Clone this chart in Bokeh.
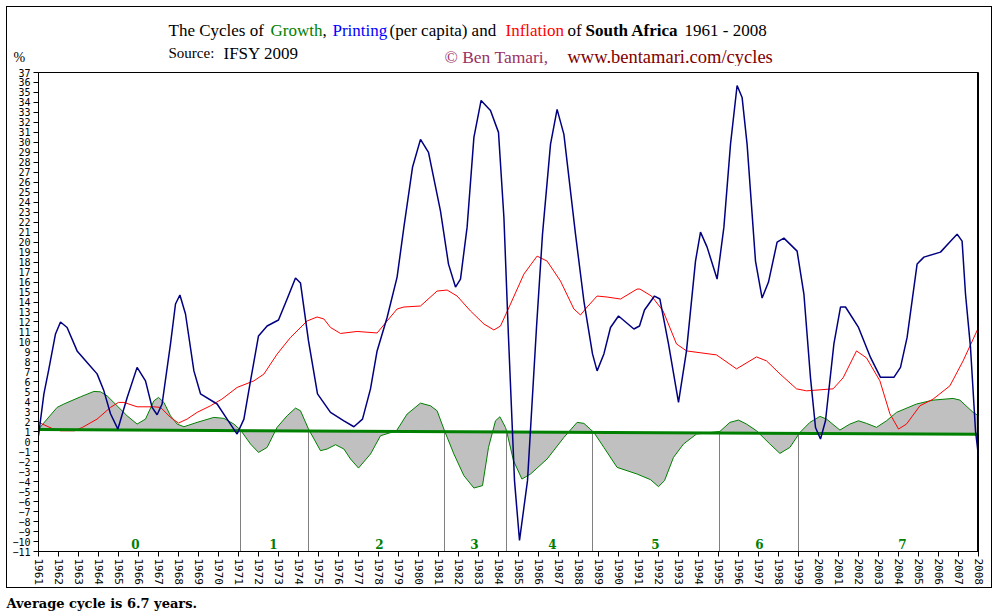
import numpy as np
from bokeh.plotting import figure
from bokeh.layouts import column
from bokeh.models import (Range1d, FixedTicker, Label, Span, ColumnDataSource, InlineStyleSheet)
from bokeh.core.properties import value
from bokeh.embed import file_html
from bokeh.resources import INLINE

# ---------------- data ----------------
x_tick_years = list(range(1961, 2009))
y_tick_vals = list(range(-11, 38))

growth_years = [1961.0, 1961.43, 1961.93, 1962.27, 1963.1, 1963.77, 1964.1, 1964.43, 1964.93, 1965.43,
                1965.93, 1966.35, 1966.77, 1967.0, 1967.27, 1967.6, 1967.93, 1968.27, 1968.93, 1969.77,
                1970.27, 1970.77, 1971.1, 1971.6, 1972.0, 1972.43, 1972.93, 1973.43, 1973.85, 1974.1,
                1974.5, 1975.1, 1975.43, 1975.85, 1976.27, 1976.6, 1977.0, 1977.6, 1978.1, 1978.9,
                1979.43, 1980.1, 1980.6, 1980.93, 1981.3, 1981.77, 1982.27, 1982.77, 1983.2, 1983.5,
                1983.85, 1984.07, 1984.35, 1984.4, 1984.75, 1985.17, 1985.6, 1986.43, 1987.27, 1987.93,
                1988.27, 1988.77, 1989.27, 1989.93, 1990.93, 1991.6, 1992.0, 1992.3, 1992.75, 1993.25,
                1993.9, 1995.07, 1995.57, 1996.0, 1996.4, 1996.9, 1997.57, 1998.07, 1998.57, 1999.07,
                1999.57, 2000.07, 2000.4, 2001.07, 2001.57, 2002.0, 2002.4, 2002.9, 2003.4, 2003.9,
                2004.9, 2005.73, 2006.73, 2007.07, 2007.73, 2008.0]
growth_vals = [1.25, 2.27, 3.44, 3.78, 4.5, 5.04, 5.0, 4.6, 3.6, 2.6,
               1.77, 2.27, 4.1, 4.44, 3.94, 2.6, 1.77, 1.5, 1.94, 2.44,
               2.34, 1.77, 1.17, -0.23, -1.07, -0.57, 1.44, 2.6, 3.37, 3.1,
               1.27, -0.9, -0.73, -0.3, -0.73, -1.73, -2.64, -1.23, 0.6, 1.1,
               2.77, 3.87, 3.6, 3.1, 1.1, -1.23, -3.4, -4.64, -4.4, -0.57,
               2.1, 2.5, 1.43, 1.1, -1.9, -3.74, -3.24, -1.73, 0.43, 1.94,
               1.84, 0.93, -0.57, -2.57, -3.24, -3.8, -4.5, -3.9, -1.57, -0.23,
               0.77, 1.03, 1.94, 2.17, 1.77, 1.1, -0.23, -1.17, -0.57, 0.93,
               1.94, 2.54, 2.27, 1.17, 1.77, 2.1, 1.84, 1.44, 2.1, 2.94,
               3.78, 4.17, 4.34, 4.17, 2.94, 2.6]

inflation_years = [1961.0, 1961.67, 1962.1, 1962.8, 1963.2, 1963.93, 1964.6, 1965.0, 1965.27, 1965.93,
                   1966.77, 1967.1, 1967.6, 1968.0, 1968.43, 1968.93, 1969.6, 1970.17, 1970.93, 1971.77,
                   1972.27, 1972.93, 1973.6, 1974.43, 1974.93, 1975.27, 1975.6, 1976.1, 1976.93, 1977.93,
                   1978.93, 1979.27, 1980.1, 1980.93, 1981.43, 1981.93, 1982.6, 1983.27, 1983.77, 1984.1,
                   1984.6, 1985.27, 1985.93, 1986.43, 1987.1, 1987.77, 1988.1, 1988.43, 1988.93, 1989.43,
                   1990.1, 1990.93, 1991.07, 1991.65, 1992.23, 1992.9, 1993.4, 1994.9, 1995.9, 1996.9,
                   1997.4, 1998.07, 1998.9, 1999.4, 2000.73, 2001.23, 2001.9, 2002.4, 2003.07, 2003.57,
                   2004.0, 2004.4, 2005.07, 2005.73, 2006.57, 2007.23, 2008.0]
inflation_vals = [1.94, 1.34, 1.1, 1.1, 1.44, 2.27, 3.44, 3.94, 3.94, 3.5,
                  3.5, 3.44, 2.44, 1.87, 2.27, 2.94, 3.6, 4.27, 5.44, 6.1,
                  6.78, 8.78, 10.45, 12.1, 12.5, 12.3, 11.45, 10.85, 11.05, 10.9,
                  13.3, 13.5, 13.6, 15.1, 15.2, 14.6, 13.1, 11.8, 11.2, 11.6,
                  13.8, 16.8, 18.6, 18.1, 16.1, 13.3, 12.7, 13.5, 14.6, 14.5,
                  14.3, 15.3, 15.3, 14.6, 13.1, 9.8, 9.1, 8.7, 7.3, 8.5,
                  8.1, 6.8, 5.3, 5.1, 5.3, 6.4, 9.1, 8.4, 6.1, 2.8,
                  1.27, 1.77, 3.6, 4.27, 5.6, 8.1, 11.45]

printing_years = [1961.0, 1961.27, 1961.5, 1961.85, 1962.1, 1962.43, 1962.93, 1963.43, 1963.93, 1964.27,
                  1964.6, 1964.97, 1965.43, 1965.93, 1966.35, 1966.68, 1966.93, 1967.18, 1967.6, 1967.85,
                  1968.07, 1968.35, 1968.77, 1969.1, 1969.93, 1970.43, 1970.93, 1971.27, 1971.6, 1972.0,
                  1972.43, 1973.0, 1973.43, 1973.85, 1974.1, 1974.5, 1974.95, 1975.6, 1976.27, 1976.77,
                  1977.2, 1977.6, 1977.93, 1978.43, 1978.93, 1979.27, 1979.7, 1980.1, 1980.5, 1981.1,
                  1981.5, 1981.85, 1982.1, 1982.43, 1982.77, 1983.13, 1983.6, 1984.0, 1984.27, 1984.5,
                  1984.8, 1985.05, 1985.45, 1985.9, 1986.2, 1986.6, 1986.93, 1987.27, 1987.85, 1988.27,
                  1988.7, 1988.93, 1989.27, 1989.6, 1990.0, 1990.77, 1991.05, 1991.3, 1991.8, 1992.07,
                  1992.5, 1993.0, 1993.4, 1993.85, 1994.1, 1994.43, 1994.93, 1995.27, 1995.6, 1995.93,
                  1996.18, 1996.43, 1996.85, 1997.18, 1997.5, 1997.93, 1998.27, 1998.93, 1999.27, 1999.6,
                  1999.85, 2000.1, 2000.35, 2000.77, 2001.1, 2001.35, 2002.0, 2002.6, 2003.1, 2003.77,
                  2004.1, 2004.43, 2004.93, 2005.27, 2006.1, 2006.6, 2006.93, 2007.18, 2007.35, 2007.6,
                  2007.85, 2008.0]
printing_vals = [0.6, 4.8, 7.1, 10.8, 12.0, 11.45, 9.1, 7.95, 6.8, 5.1,
                 2.8, 1.27, 4.4, 7.45, 6.1, 3.44, 2.7, 3.78, 9.8, 13.8,
                 14.7, 12.8, 7.1, 4.8, 3.78, 2.27, 0.77, 2.27, 6.1, 10.6,
                 11.6, 12.2, 14.3, 16.4, 15.9, 10.1, 4.8, 2.94, 2.1, 1.5,
                 2.27, 5.3, 9.1, 12.45, 16.5, 21.5, 27.5, 30.3, 29.0, 23.1,
                 17.8, 15.5, 16.3, 21.5, 30.5, 34.2, 33.2, 31.0, 22.5, 10.45,
                 -3.9, -9.9, -3.9, 11.45, 20.8, 29.8, 33.3, 30.8, 20.8, 14.1,
                 8.8, 7.1, 8.8, 11.45, 12.6, 11.3, 11.6, 13.2, 14.6, 14.3,
                 9.8, 3.94, 9.1, 18.1, 21.0, 19.5, 16.3, 21.5, 29.8, 35.7,
                 34.5, 29.8, 18.1, 14.4, 16.0, 20.0, 20.4, 19.1, 14.8, 6.4,
                 1.43, 0.27, 2.1, 9.8, 13.5, 13.5, 11.45, 8.45, 6.45, 6.45,
                 7.45, 10.45, 17.8, 18.5, 19.0, 20.1, 20.8, 20.1, 14.8, 9.45,
                 1.1, -1.5]

trend_years = [1961.0, 2008.0]
trend_vals = [1.22, 0.75]

cycle_bounds = [1971.1, 1974.5, 1981.3, 1984.4, 1988.7, 1995.05, 1999.0]
cycle_names = ["0", "1", "2", "3", "4", "5", "6", "7"]
cycle_name_years = [1965.85, 1972.75, 1978.05, 1982.8, 1986.7, 1991.85, 1997.05, 2004.2]
cycle_name_level = -10.2

title_texts = ["The Cycles of", "Growth", ",", "Printing", "(per capita) and", "Inflation",
               "of", "South Africa", "1961 - 2008"]
source_texts = ["Source:", "IFSY 2009", "\u00a9 Ben Tamari,", "www.bentamari.com/cycles"]
unit_text = "%"
footer_text = "Average cycle is 6.7 years."

# ---------------- page geometry (canvas pixels) ----------------
W, H = 1000, 613
HEAD_H = 66           # header strip: 0..66
FOOT_H = 22           # footer strip: 591..613
MAIN_H = H - HEAD_H - FOOT_H
FL, FR, FT, FB = 38, 978, 72, 551   # chart frame edges on the page


def strip(height, y_top):
    f = figure(width=W, height=height, output_backend="svg", toolbar_location=None,
               x_range=Range1d(0, W), y_range=Range1d(y_top + height, y_top),
               x_axis_type=None, y_axis_type=None,
               min_border_left=0, min_border_right=0, min_border_top=0, min_border_bottom=0)
    f.frame_align = False
    f.outline_line_color = None
    f.background_fill_color = "white"
    f.border_fill_color = "white"
    f.xgrid.visible = False
    f.ygrid.visible = False
    return f


# ---------------- header ----------------
head = strip(HEAD_H, 0)
title_x = [168, 270, 322, 332, 389, 505, 567, 585, 684]
title_colors = ["black", "#008000", "black", "#0000FF", "black", "#FF0000", "black", "black", "black"]
title_styles = ["normal"] * 7 + ["bold", "normal"]

hx = title_x + [168, 223, 444, 567, 13]
hy = [30] * len(title_texts) + [52, 53, 56, 56, 57]
ht = title_texts + source_texts + [unit_text]
hc = title_colors + ["black", "black", "#993366", "#800000", "black"]
hs = title_styles + ["normal"] * 5
hz = ["17px"] * len(title_texts) + ["15px", "17px", "17.5px", "18.5px", "14px"]
head.text(x="x", y="y", text="text", text_color="color", text_font_style="style",
          text_font_size="size", text_font=value("Liberation Serif"),
          text_align="left", text_baseline="alphabetic",
          source=ColumnDataSource(dict(x=hx, y=hy, text=ht, color=hc, style=hs, size=hz)))

# ---------------- main chart ----------------
p = figure(width=W, height=MAIN_H, output_backend="svg", toolbar_location=None,
           x_range=Range1d(1961, 2008), y_range=Range1d(-11, 37),
           min_border_left=FL, min_border_right=W - FR,
           min_border_top=FT - HEAD_H, min_border_bottom=(HEAD_H + MAIN_H) - FB)
p.frame_align = False
p.background_fill_color = "white"
p.border_fill_color = "white"
p.outline_line_color = "black"
p.outline_line_width = 1
p.xgrid.visible = False
p.ygrid.visible = False

p.xaxis.ticker = FixedTicker(ticks=x_tick_years)
p.xaxis.major_label_orientation = "vertical"
p.xaxis.major_label_text_font = "DejaVu Sans Mono"
p.xaxis.major_label_text_font_size = "11px"
p.xaxis.major_label_text_color = "black"
p.xaxis.major_tick_out = 5
p.xaxis.major_tick_in = 0
p.xaxis.minor_tick_line_color = None
p.xaxis.major_label_standoff = 2
p.xaxis.axis_line_color = "black"

p.yaxis.ticker = FixedTicker(ticks=y_tick_vals)
p.yaxis.major_label_text_font = "DejaVu Sans Mono"
p.yaxis.major_label_text_font_size = "10px"
p.yaxis.major_label_text_color = "black"
p.yaxis.major_tick_out = 5
p.yaxis.major_tick_in = 0
p.yaxis.minor_tick_line_color = None
p.yaxis.major_label_standoff = 3
p.yaxis.axis_line_color = "black"

# gray area between growth and its trend
trend_at_growth = np.interp(growth_years, trend_years, trend_vals)
p.varea(x=growth_years, y1=trend_at_growth, y2=growth_vals, fill_color="#C0C0C0")
p.line(growth_years, growth_vals, line_color="#008000", line_width=1)

# cycle dividers
trend_at_bounds = np.interp(cycle_bounds, trend_years, trend_vals)
p.segment(x0=cycle_bounds, y0=trend_at_bounds, x1=cycle_bounds,
          y1=[-11] * len(cycle_bounds), line_color="#808080", line_width=1)

p.line(inflation_years, inflation_vals, line_color="#FF0000", line_width=1)
p.line(trend_years, trend_vals, line_color="#008000", line_width=3)
p.line(printing_years, printing_vals, line_color="#000080", line_width=1.5)

p.add_layout(Span(location=2008, dimension="height", line_color="black", line_width=3))

for name, yr in zip(cycle_names, cycle_name_years):
    p.add_layout(Label(x=yr, y=cycle_name_level, text=name, text_align="center",
                       text_baseline="middle", text_color="#008000",
                       text_font="DejaVu Serif", text_font_style="bold",
                       text_font_size="12px"))

# ---------------- footer ----------------
foot = strip(FOOT_H, HEAD_H + MAIN_H)
foot.text(x=[6], y=[603], text=[footer_text], text_color="black", text_font_style="bold",
          text_font_size="13px", text_font=value("DejaVu Serif"),
          text_align="left", text_baseline="alphabetic")

# thin frame around the picture (page pixels 6..992 x 6..588)
frame_css = InlineStyleSheet(css="""
:host { position: relative; }
:host::after { content: ''; position: absolute; left: 6px; top: 6px; width: 986px; height: 582px;
               border: 1px solid black; box-sizing: border-box; pointer-events: none; z-index: 50; }
""")
page = column(head, p, foot, spacing=0, stylesheets=[frame_css])

open("out.html", "w").write(file_html(page, INLINE))
